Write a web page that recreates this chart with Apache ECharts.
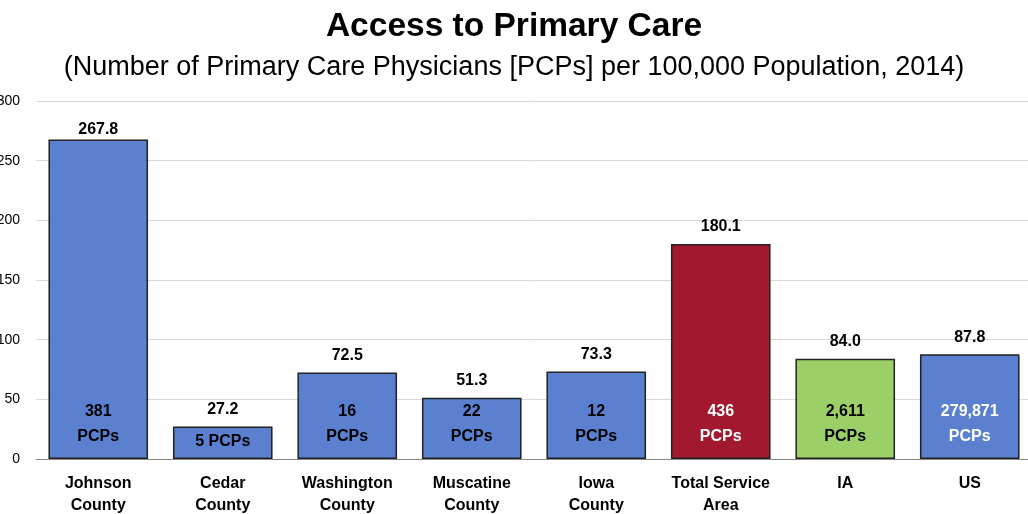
<!DOCTYPE html>
<html><head><meta charset="utf-8">
<script src="https://cdn.jsdelivr.net/npm/echarts@6/dist/echarts.min.js"></script>
<style>html,body{margin:0;padding:0;background:#fff}#c{width:1028px;height:514px}</style>
</head><body><div id="c"></div>
<script>
const categories = ['Johnson\nCounty','Cedar\nCounty','Washington\nCounty','Muscatine\nCounty','Iowa\nCounty','Total Service\nArea','IA','US'];
const rates = [267.8, 27.2, 72.5, 51.3, 73.3, 180.1, 84.0, 87.8];
const rateLabels = ['267.8','27.2','72.5','51.3','73.3','180.1','84.0','87.8'];
const pcpLabels = ['381\nPCPs','5 PCPs','16\nPCPs','22\nPCPs','12\nPCPs','436\nPCPs','2,611\nPCPs','279,871\nPCPs'];
const barColors = ['#5B80D0','#5B80D0','#5B80D0','#5B80D0','#5B80D0','#A2192F','#9BD068','#5B80D0'];
const pcpTextColors = ['#000','#000','#000','#000','#000','#fff','#000','#fff'];
const yTicks = [0,50,100,150,200,250,300];

const FONT = "'Liberation Sans', Arial, sans-serif";
const chart = echarts.init(document.getElementById('c'));
chart.setOption({
  animation:false,
  title:[
    {text:'Access to Primary Care', left:'center', top:5, textStyle:{fontFamily:FONT, fontSize:33.5, fontWeight:'bold', color:'#000'}},
    {text:'(Number of Primary Care Physicians [PCPs] per 100,000 Population, 2014)', left:'center', top:49, textStyle:{fontFamily:FONT, fontSize:27, fontWeight:'normal', color:'#000'}}
  ],
  grid:{left:36, width:996, top:101, bottom:55, outerBoundsMode:'none', containLabel:false},
  xAxis:{type:'category', data:categories,
    axisLine:{lineStyle:{color:'#888', width:1}}, axisTick:{show:false},
    axisLabel:{fontFamily:FONT, fontSize:16, fontWeight:'bold', color:'#000', lineHeight:22, margin:14, interval:0}},
  yAxis:{type:'value', min:yTicks[0], max:yTicks[yTicks.length-1], interval:50,
    axisLine:{show:false}, axisTick:{show:false},
    splitLine:{lineStyle:{color:'#d9d9d9', width:1}},
    axisLabel:{fontFamily:FONT, fontSize:14, color:'#000', margin:16}},
  series:[
    {type:'bar', barWidth:'80%',
     data: rates.map((v,i)=>({value:v, itemStyle:{color:barColors[i]},
        label:{formatter:pcpLabels[i], color:pcpTextColors[i], distance: pcpLabels[i].indexOf('\n')<0 ? 5 : 10}})),
     itemStyle:{borderColor:'#222', borderWidth:1.5},
     label:{show:true, position:'insideBottom', fontFamily:FONT, fontSize:16, fontWeight:'bold', lineHeight:25},
     z:2},
    {type:'bar', barWidth:'80%', barGap:'-100%',
     data: rates.map((v,i)=>({value:v, label:{formatter:rateLabels[i], distance: i===0 ? 2 : 9}})),
     itemStyle:{color:'rgba(0,0,0,0)'},
     label:{show:true, position:'top', fontFamily:FONT, fontSize:16, fontWeight:'bold', color:'#000'},
     z:3, silent:true}
  ]
});
</script></body></html>
